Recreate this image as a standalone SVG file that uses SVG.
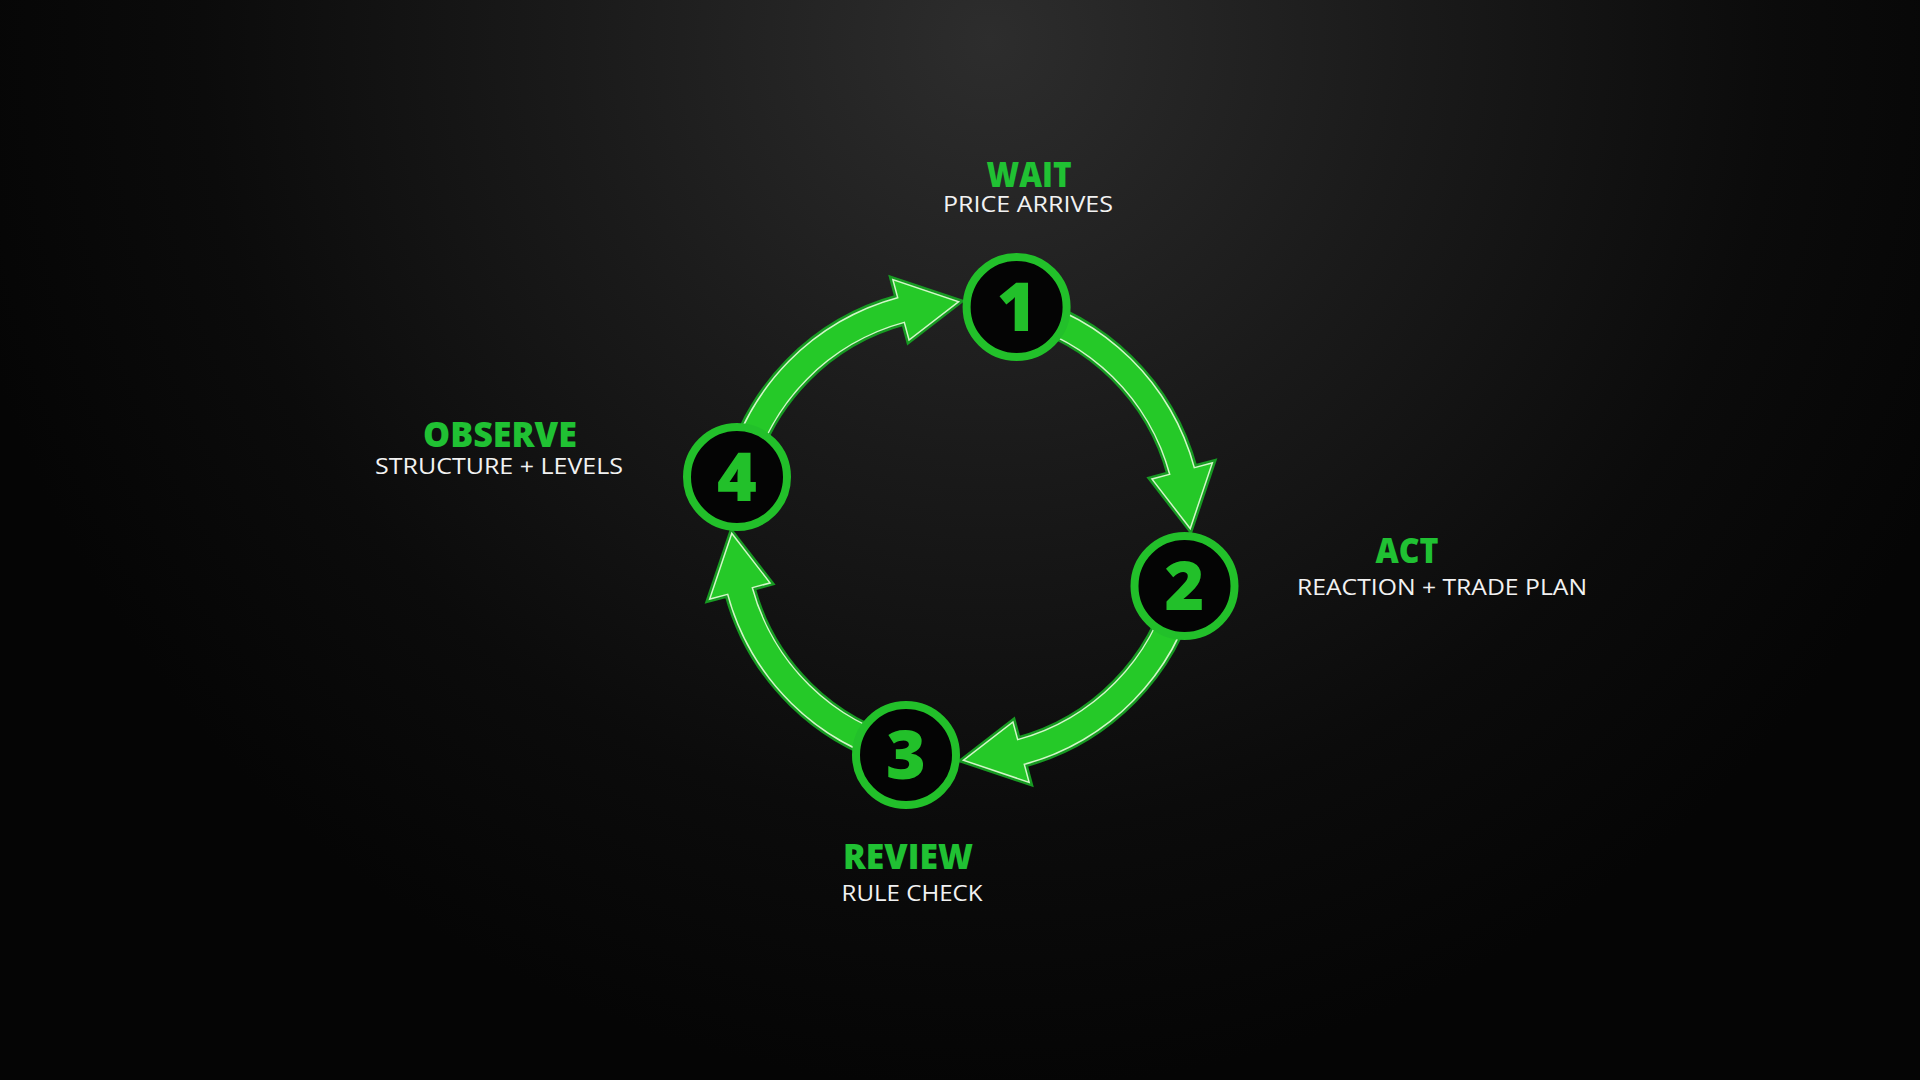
<svg xmlns="http://www.w3.org/2000/svg" xmlns:xlink="http://www.w3.org/1999/xlink" width="1920" height="1080" viewBox="0 0 1920 1080">
  <defs>
    <radialGradient id="bg" gradientUnits="userSpaceOnUse" cx="990" cy="40" r="1050">
      <stop offset="0" stop-color="#2d2d2d"/>
      <stop offset="0.4" stop-color="#1a1a1a"/>
      <stop offset="0.75" stop-color="#0b0b0b"/>
      <stop offset="1" stop-color="#050505"/>
    </radialGradient>
    <path id="arrowPath" d="M 1019.30 297.16 A 241 241 0 0 1 1193.79 468.62 L 1211.18 463.97 L 1189.97 527.00 L 1153.22 479.49 L 1170.61 474.84 A 217 217 0 0 0 1013.50 320.45 Z"/>
    <g id="arrow">
      <use href="#arrowPath" xlink:href="#arrowPath" class="a-out"/>
      <use href="#arrowPath" xlink:href="#arrowPath" class="a-line"/>
      <use href="#arrowPath" xlink:href="#arrowPath" class="a-fill"/>
    </g>
  </defs>
  <style>
    .a-out { fill: #179a22; stroke: #179a22; stroke-width: 8; stroke-linejoin: miter; }
    .a-line { fill: none; stroke: #d2f7c8; stroke-width: 3; stroke-linejoin: miter; }
    .a-fill { fill: #25c928; stroke: none; }
    .ring { fill: #040404; stroke: #22c02a; stroke-width: 8; }
    .num { font-family: "Open Sans", "Liberation Sans", sans-serif; font-weight: 800; font-size: 68px; fill: #22c02a; text-anchor: middle; }
    .title { font-family: "Open Sans", "Liberation Sans", sans-serif; font-weight: 800; font-size: 35px; fill: #20c133; text-anchor: middle; }
    .sub { font-family: "Open Sans", "Liberation Sans", sans-serif; font-weight: 400; font-size: 21px; fill: #f2f2f2; text-anchor: middle; }
  </style>
  <rect width="1920" height="1080" fill="url(#bg)"/>

  <g id="connectors">
    <use href="#arrow" xlink:href="#arrow"/>
    <use href="#arrow" xlink:href="#arrow" transform="rotate(90 961 531)"/>
    <use href="#arrow" xlink:href="#arrow" transform="rotate(180 961 531)"/>
    <use href="#arrow" xlink:href="#arrow" transform="rotate(270 961 531)"/>
  </g>

  <g id="node1">
    <circle class="ring" cx="1016.6" cy="307" r="50"/>
    <text class="num" x="1016.6" y="331">1</text>
    <text class="title" x="1029" y="187" textLength="85" lengthAdjust="spacingAndGlyphs">WAIT</text>
    <text class="sub" x="1028" y="212" textLength="170" lengthAdjust="spacingAndGlyphs">PRICE ARRIVES</text>
  </g>

  <g id="node2">
    <circle class="ring" cx="1184.5" cy="586" r="50"/>
    <text class="num" x="1184.5" y="610">2</text>
    <text class="title" x="1407" y="563" textLength="63" lengthAdjust="spacingAndGlyphs">ACT</text>
    <text class="sub" x="1442" y="595" textLength="290" lengthAdjust="spacingAndGlyphs">REACTION + TRADE PLAN</text>
  </g>

  <g id="node3">
    <circle class="ring" cx="906" cy="755" r="50"/>
    <text class="num" x="906" y="779">3</text>
    <text class="title" x="908" y="869" textLength="130" lengthAdjust="spacingAndGlyphs">REVIEW</text>
    <text class="sub" x="912" y="901" textLength="141" lengthAdjust="spacingAndGlyphs">RULE CHECK</text>
  </g>

  <g id="node4">
    <circle class="ring" cx="737" cy="477" r="50"/>
    <text class="num" x="737" y="501">4</text>
    <text class="title" x="500" y="447" textLength="154" lengthAdjust="spacingAndGlyphs">OBSERVE</text>
    <text class="sub" x="499" y="474" textLength="248" lengthAdjust="spacingAndGlyphs">STRUCTURE + LEVELS</text>
  </g>
</svg>
